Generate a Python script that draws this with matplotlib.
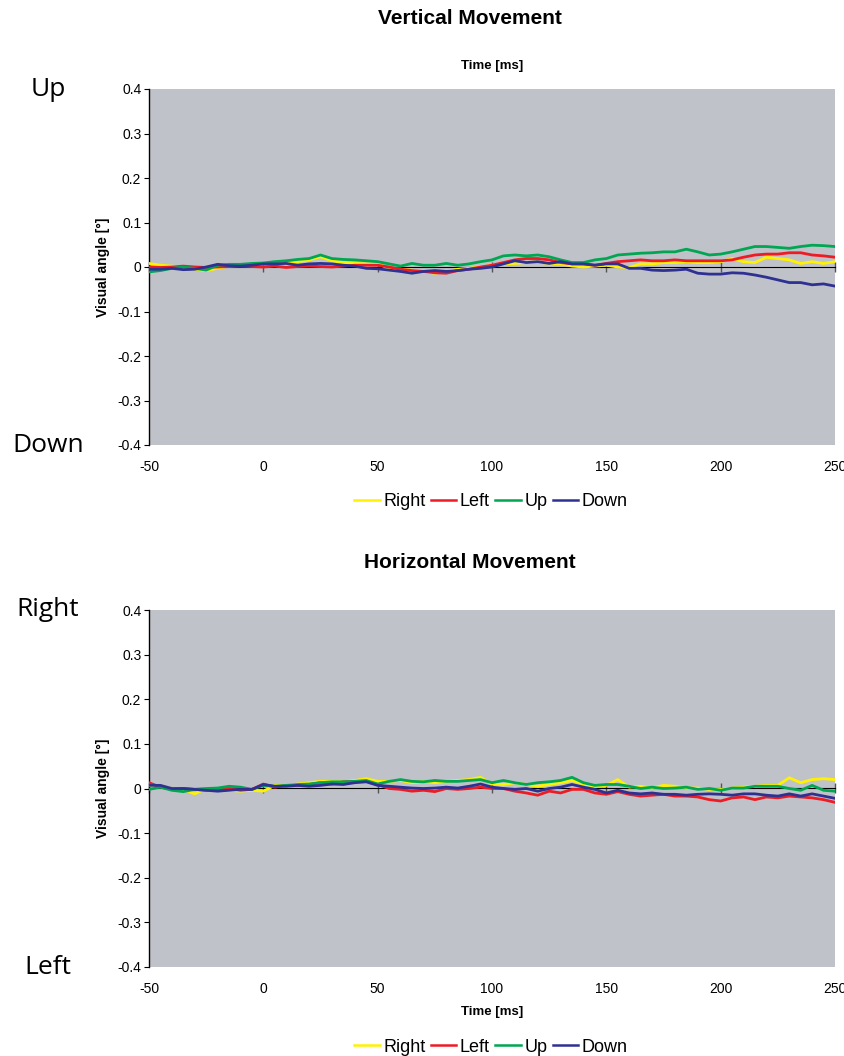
import numpy as np
import matplotlib
matplotlib.use("Agg")
import matplotlib.pyplot as plt
from matplotlib.ticker import FuncFormatter, NullFormatter

plt.rcParams['font.family'] = ['Liberation Sans', 'DejaVu Sans']
plt.rcParams['axes.unicode_minus'] = False

# sample times (ms), one value every 5 ms
time_ms = np.arange(-50, 255, 5)

# Vertical movement (deg)
v_right = [0.008, 0.004, 0.002, 0.0, -0.005, -0.008, -0.003, 0.002, 0.004, 0.004, 0.007,
           0.007, 0.008, 0.012, 0.016, 0.023, 0.014, 0.010, 0.008, 0.007, 0.007,
           -0.003, -0.005, -0.007, -0.010, -0.014, -0.010, -0.005, -0.003, 0.0, 0.004,
           0.007, 0.008, 0.010, 0.012, 0.007, 0.007, 0.002, 0.0, 0.002, 0.004,
           0.0, -0.001, 0.007, 0.007, 0.010, 0.010, 0.012, 0.010, 0.010, 0.012,
           0.019, 0.012, 0.010, 0.022, 0.019, 0.016, 0.008, 0.012, 0.008, 0.012]
v_left = [0.0, -0.001, 0.0, 0.002, 0.0, -0.001, 0.0, 0.001, 0.002, 0.001, 0.0,
          0.002, -0.001, 0.001, 0.002, 0.001, 0.0, 0.002, 0.004, 0.004, 0.004,
          0.0, -0.005, -0.008, -0.010, -0.013, -0.014, -0.008, -0.005, 0.0, 0.004,
          0.010, 0.016, 0.019, 0.019, 0.016, 0.010, 0.007, 0.007, 0.004, 0.008,
          0.012, 0.014, 0.016, 0.014, 0.014, 0.016, 0.014, 0.014, 0.014, 0.014,
          0.016, 0.022, 0.027, 0.029, 0.029, 0.032, 0.032, 0.027, 0.025, 0.022]
v_up = [-0.011, -0.008, -0.003, 0.0, -0.003, -0.007, 0.004, 0.006, 0.006, 0.008, 0.009,
        0.012, 0.014, 0.017, 0.019, 0.027, 0.019, 0.017, 0.016, 0.014, 0.012,
        0.007, 0.002, 0.008, 0.004, 0.004, 0.008, 0.004, 0.007, 0.012, 0.016,
        0.025, 0.027, 0.025, 0.027, 0.023, 0.016, 0.010, 0.010, 0.016, 0.019,
        0.027, 0.029, 0.031, 0.032, 0.034, 0.034, 0.040, 0.034, 0.027, 0.029,
        0.034, 0.040, 0.046, 0.046, 0.044, 0.042, 0.046, 0.049, 0.048, 0.046]
v_down = [-0.005, -0.005, -0.003, -0.006, -0.005, 0.0, 0.006, 0.003, 0.002, 0.004, 0.007,
          0.007, 0.008, 0.004, 0.007, 0.008, 0.007, 0.004, 0.002, -0.003, -0.004,
          -0.007, -0.010, -0.014, -0.010, -0.008, -0.010, -0.008, -0.005, -0.003, 0.0,
          0.007, 0.014, 0.010, 0.012, 0.008, 0.012, 0.007, 0.007, 0.004, 0.007,
          0.007, -0.003, -0.003, -0.007, -0.008, -0.007, -0.005, -0.014, -0.016, -0.016,
          -0.013, -0.014, -0.018, -0.023, -0.029, -0.035, -0.035, -0.040, -0.038, -0.043]

# Horizontal movement (deg)
h_right = [0.007, 0.005, 0.0, -0.002, -0.012, 0.0, -0.002, -0.004, -0.006, -0.004, -0.006,
           0.007, 0.007, 0.010, 0.013, 0.016, 0.016, 0.015, 0.018, 0.022, 0.016,
           0.016, 0.018, 0.013, 0.016, 0.013, 0.016, 0.018, 0.020, 0.025, 0.010,
           0.009, 0.013, 0.009, 0.005, 0.009, 0.013, 0.018, 0.010, 0.005, 0.007,
           0.020, 0.003, 0.005, 0.001, 0.007, 0.005, 0.001, 0.001, -0.002, -0.002,
           0.001, 0.003, 0.005, 0.007, 0.007, 0.024, 0.013, 0.020, 0.022, 0.020]
h_left = [0.013, 0.003, -0.002, 0.0, -0.002, -0.004, -0.002, 0.0, -0.004, -0.002, 0.010,
          0.003, 0.007, 0.007, 0.009, 0.013, 0.010, 0.015, 0.016, 0.016, 0.009,
          0.0, -0.002, -0.006, -0.004, -0.007, 0.0, -0.002, 0.0, 0.003, 0.0,
          0.0, -0.006, -0.010, -0.015, -0.006, -0.010, -0.002, -0.002, -0.010, -0.013,
          -0.007, -0.013, -0.017, -0.015, -0.013, -0.017, -0.017, -0.019, -0.025, -0.028,
          -0.021, -0.019, -0.025, -0.019, -0.021, -0.017, -0.019, -0.021, -0.025, -0.031]
h_up = [-0.002, 0.003, -0.004, -0.007, -0.002, 0.0, 0.001, 0.005, 0.003, -0.002, 0.007,
        0.005, 0.007, 0.009, 0.010, 0.013, 0.015, 0.015, 0.016, 0.018, 0.010,
        0.016, 0.020, 0.016, 0.015, 0.018, 0.016, 0.016, 0.018, 0.020, 0.013,
        0.018, 0.013, 0.009, 0.013, 0.015, 0.018, 0.025, 0.013, 0.007, 0.009,
        0.009, 0.005, 0.0, 0.003, 0.0, 0.001, 0.003, -0.002, 0.0, -0.004,
        0.001, 0.001, 0.005, 0.005, 0.005, 0.0, -0.004, 0.007, -0.004, -0.006]
h_down = [0.007, 0.007, 0.0, 0.0, -0.002, -0.004, -0.006, -0.004, -0.002, -0.002, 0.009,
          0.005, 0.005, 0.007, 0.005, 0.007, 0.010, 0.009, 0.013, 0.015, 0.007,
          0.005, 0.003, 0.001, 0.0, 0.001, 0.003, 0.001, 0.005, 0.010, 0.003,
          0.0, -0.002, 0.0, -0.006, 0.0, 0.003, 0.009, 0.003, -0.002, -0.010,
          -0.004, -0.010, -0.012, -0.010, -0.013, -0.013, -0.015, -0.013, -0.012, -0.013,
          -0.015, -0.012, -0.012, -0.015, -0.017, -0.012, -0.017, -0.012, -0.017, -0.022]

series_names = ['Right', 'Left', 'Up', 'Down']
series_colors = ['#fff200', '#ed1c24', '#00a651', '#2e3192']
x_ticks = [-50, 0, 50, 100, 150, 200, 250]
y_ticks = [-0.4, -0.3, -0.2, -0.1, 0, 0.1, 0.2, 0.3, 0.4]

fig = plt.figure(figsize=(8.45, 10.56), dpi=100)


def fmt(v, pos):
    return '0' if abs(v) < 1e-9 else '%g' % v


def draw_panel(rect, data, title, title_y, time_top, top_lbl, bot_lbl, legend_y):
    ax = fig.add_axes(rect)
    ax.set_facecolor('#c0c2c9')
    for name, col, vals in zip(series_names, series_colors, data):
        ax.plot(time_ms, vals, color=col, lw=2.0, label=name, zorder=3)
    ax.set_xlim(-50, 250)
    ax.set_ylim(-0.4, 0.4)
    ax.set_xticks(x_ticks)
    ax.set_yticks(y_ticks)
    ax.yaxis.set_major_formatter(FuncFormatter(fmt))
    for s in ['top', 'right', 'bottom']:
        ax.spines[s].set_visible(False)
    ax.spines['left'].set_color('black')
    ax.spines['left'].set_linewidth(1.0)
    ax.tick_params(axis='y', direction='out', length=3.5, width=0.8, labelsize=10, pad=2)
    ax.tick_params(axis='x', length=0, labelsize=10, pad=11)
    # zero line with tick marks
    zx = ax.secondary_xaxis(0.5)
    zx.spines['bottom'].set_color('#555555')
    zx.spines['bottom'].set_linewidth(1.0)
    zx.set_xticks(x_ticks)
    zx.xaxis.set_major_formatter(NullFormatter())
    zx.tick_params(direction='inout', length=7, width=1.0, color='#555555')
    ax.set_ylabel('Visual angle [°]', fontsize=10, fontweight='bold', labelpad=5)
    fig.text(470 / 845, title_y, title, ha='center', va='center', fontsize=15, fontweight='bold')
    fig.text(492 / 845, time_top, 'Time [ms]', ha='center', va='center', fontsize=9.5, fontweight='bold')
    fig.text(48 / 845, rect[1] + rect[3], top_lbl, ha='center', va='center', fontsize=19,
             family=['Open Sans', 'DejaVu Sans'])
    fig.text(48 / 845, rect[1], bot_lbl, ha='center', va='center', fontsize=19,
             family=['Open Sans', 'DejaVu Sans'])
    leg = fig.legend(*ax.get_legend_handles_labels(), loc='center', bbox_to_anchor=(491 / 845, legend_y),
                     ncol=4, frameon=False, fontsize=13, handlelength=1.4, handletextpad=0.2,
                     columnspacing=0.3, borderaxespad=0)
    for ln in leg.get_lines():
        ln.set_linewidth(1.8)
    return ax


draw_panel([149 / 845, 1 - 445 / 1056, 686 / 845, 356 / 1056], [v_right, v_left, v_up, v_down],
           'Vertical Movement', 1 - 18 / 1056, 1 - 66 / 1056, 'Up', 'Down', 1 - 502 / 1056)
draw_panel([149 / 845, 1 - 967 / 1056, 686 / 845, 357 / 1056], [h_right, h_left, h_up, h_down],
           'Horizontal Movement', 1 - 563 / 1056, 1 - 1012 / 1056, 'Right', 'Left', 1 - 1047 / 1056)

fig.savefig('out.png', dpi=100)
